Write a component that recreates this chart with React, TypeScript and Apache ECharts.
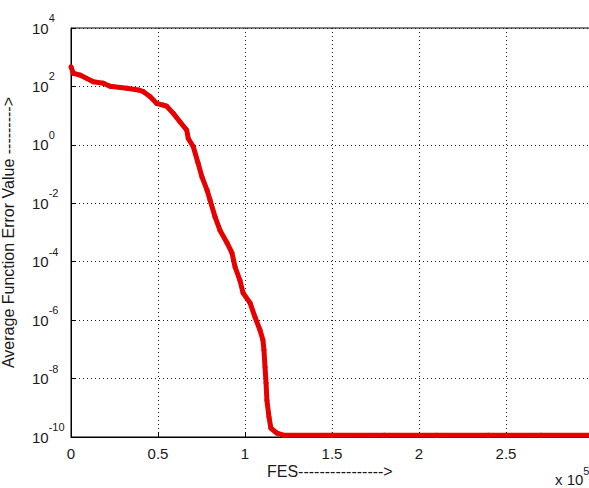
import React, { useEffect, useRef } from "react";
import * as echarts from "echarts";

// FES values (function evaluations)
const fes = [
  0, 1300, 5200, 12800, 18600, 22400, 32000, 38700, 41600, 45400, 49300, 53000,
  55000, 58800, 62600, 66500, 67400, 70300, 73000, 75300, 78200, 79900, 82800,
  85600, 89700, 92500, 94300, 97100, 98900, 102900, 105700, 108600, 110300,
  110900, 111500, 112100, 112600, 113800, 114900, 118400, 122000, 150000,
  180000, 210000, 240000, 270000, 300000,
];
// Average function error values
const errorValues = [
  473, 282, 245, 145, 129, 102, 87, 76, 66, 45, 26, 23, 21, 12, 6.2, 3.2, 1.66,
  0.86, 0.24, 0.079, 0.028, 0.013, 3.4e-3, 1.2e-3, 4.4e-4, 2.0e-4, 6.6e-5,
  2.3e-5, 8.5e-6, 3.9e-6, 1.3e-6, 4.6e-7, 2.1e-7, 9.5e-8, 2.5e-8, 7.1e-9,
  1.8e-9, 4.8e-10, 2.0e-10, 1.35e-10, 1.15e-10, 1.15e-10, 1.15e-10, 1.15e-10,
  1.15e-10, 1.15e-10, 1.15e-10,
];

const xAxisName = "FES" + "-".repeat(16) + ">";
const yAxisName = "Average Function Error Value " + "-".repeat(9) + ">";
const xScaleNote = "x 10";
const xScaleExp = "5";

const FONT = "'Liberation Sans', Arial, Helvetica, sans-serif";
const TEXT = "#1a1a1a";
const RED = "#e60000";

export default function App() {
  const ref = useRef<HTMLDivElement>(null);
  useEffect(() => {
    if (!ref.current) return;
    const chart = echarts.init(ref.current, undefined, { renderer: "svg" });
    const data = fes.map((f, i) => [f, errorValues[i]]);
    chart.setOption({
      animation: false,
      backgroundColor: "#ffffff",
      textStyle: { fontFamily: FONT },
      grid: {
        left: 71,
        top: 28,
        right: -4,
        bottom: 51,
        containLabel: false,
        outerBoundsMode: "none",
        show: true,
        borderColor: "#000",
        borderWidth: 1,
        backgroundColor: "transparent",
      },
      xAxis: {
        type: "value",
        min: 0,
        max: 300000,
        interval: 50000,
        name: xAxisName,
        nameLocation: "start",
        nameGap: 0,
        nameTextStyle: {
          fontFamily: FONT,
          fontSize: 16,
          color: TEXT,
          align: "left",
          verticalAlign: "top",
          padding: [26, 0, 0, 196],
        },
        axisLine: { show: true, lineStyle: { color: "#000", width: 1 } },
        axisTick: { show: true, inside: true, length: 5, lineStyle: { color: "#000" } },
        splitLine: { show: true, lineStyle: { color: "#222", type: [1, 3], width: 1 } },
        axisLabel: {
          fontFamily: FONT,
          fontSize: 15,
          color: TEXT,
          margin: 9,
          showMaxLabel: false,
          formatter: (v: number) => String(v / 100000),
        },
      },
      yAxis: {
        type: "log",
        logBase: 10,
        min: 1e-10,
        max: 1e4,
        interval: 2,
        name: yAxisName,
        nameLocation: "middle",
        nameGap: 55,
        nameRotate: 90,
        nameTextStyle: { fontFamily: FONT, fontSize: 16, color: TEXT },
        axisLine: { show: true, lineStyle: { color: "#000", width: 1 } },
        axisTick: { show: true, inside: true, length: 5, lineStyle: { color: "#000" } },
        minorTick: { show: false },
        splitLine: { show: true, lineStyle: { color: "#222", type: [1, 3], width: 1 } },
        axisLabel: {
          align: "left",
          margin: 39,
          formatter: (v: number) => {
            const e = Math.round(Math.log10(v));
            return "{b|10}{s|" + e + "}";
          },
          rich: {
            b: { fontFamily: FONT, fontSize: 15, color: TEXT, lineHeight: 31, verticalAlign: "middle" },
            s: { fontFamily: FONT, fontSize: 11, color: TEXT, lineHeight: 11, verticalAlign: "top" },
          },
        },
      },
      graphic: [
        {
          type: "text",
          left: 555,
          top: 465,
          style: {
            text: "{a|" + xScaleNote + "}{b|" + xScaleExp + "}",
            rich: {
              a: { fontFamily: FONT, fontSize: 15, fill: TEXT, lineHeight: 22, verticalAlign: "bottom" },
              b: { fontFamily: FONT, fontSize: 11, fill: TEXT, lineHeight: 11, verticalAlign: "top" },
            },
          },
        },
      ],
      series: [
        {
          type: "line",
          data,
          symbol: "circle",
          symbolSize: 5,
          showSymbol: true,
          lineStyle: { color: RED, width: 5 },
          itemStyle: { color: RED },
          clip: true,
        },
      ],
    });
    return () => chart.dispose();
  }, []);
  return (
    <div
      ref={ref}
      style={{ position: "fixed", left: 0, top: 0, width: 589, height: 488, background: "#fff" }}
    />
  );
}
